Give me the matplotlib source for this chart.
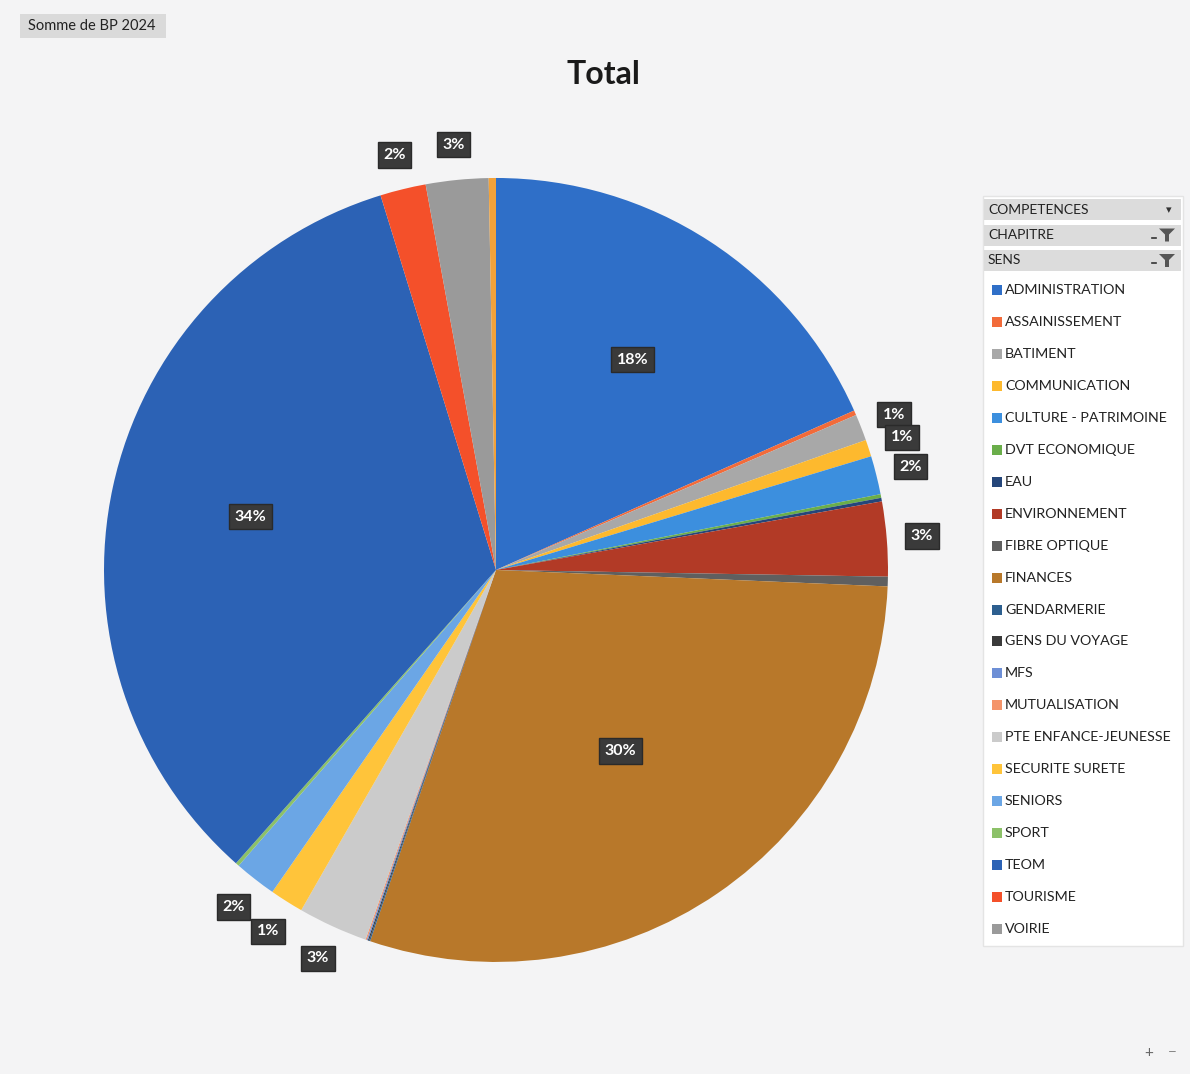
import numpy as np
import matplotlib
matplotlib.use("Agg")
import matplotlib.pyplot as plt
from matplotlib.patches import Rectangle, Polygon

plt.rcParams['font.family'] = ['Lato', 'DejaVu Sans']

# Somme de BP 2024 par compétence (en % du total)
competences = ["ADMINISTRATION", "ASSAINISSEMENT", "BATIMENT", "COMMUNICATION",
               "CULTURE - PATRIMOINE", "DVT ECONOMIQUE", "EAU", "ENVIRONNEMENT",
               "FIBRE OPTIQUE", "FINANCES", "GENDARMERIE", "GENS DU VOYAGE",
               "MFS", "MUTUALISATION", "PTE ENFANCE-JEUNESSE", "SECURITE SURETE",
               "SENIORS", "SPORT", "TEOM", "TOURISME", "VOIRIE"]
parts = [18.5, 0.2, 1.1, 0.7, 1.6, 0.15, 0.15, 3.1, 0.4, 29.8, 0.05, 0.05,
         0.05, 0.05, 2.9, 1.4, 1.75, 0.15, 34.0, 1.9, 2.6]
couleurs = ["#2F6FC8", "#F26B3A", "#A8A8A8", "#FDB92E", "#3C8FDE", "#6AAE4A",
            "#25467A", "#B23A26", "#5F5F5F", "#B8782A", "#2D5F8F", "#3A3A3A",
            "#6D8FD6", "#F4946A", "#CBCBCB", "#FFC43A", "#6BA6E5", "#8CC168",
            "#2C62B5", "#F4502A", "#9A9A9A"]
# fine tranche sans libellé en haut du camembert
autre = 0.3
couleur_autre = "#F2A23A"

W, H = 1190, 1074
fig = plt.figure(figsize=(W / 100, H / 100), dpi=100)
fig.patch.set_facecolor("#F4F4F5")

# calque en pixels pour les boutons et la légende
ov = fig.add_axes([0, 0, 1, 1])
ov.set_xlim(0, W)
ov.set_ylim(H, 0)
ov.axis("off")

ov.add_patch(Rectangle((20, 14), 146, 24, fc="#DADADA", ec="none"))
ov.text(28, 26, "Somme de BP 2024", fontsize=10.5, va="center", color="#222222")

fig.text(603 / W, 1 - 75 / H, "Total", ha="center", va="center",
         fontsize=23, fontweight="bold", color="#1A1A1A")

# camembert
ax = fig.add_axes([0.0874, 0.1043, 0.6588, 0.730])
vals = parts + [autre]
cols = couleurs + [couleur_autre]
wedges, _ = ax.pie(vals, colors=cols, startangle=90, counterclock=False,
                   radius=1, wedgeprops=dict(linewidth=0))
ax.set_xlim(-1, 1)
ax.set_ylim(-1, 1)
ax.set_aspect("equal")
ax.axis("off")

total = sum(vals)
for w, v in zip(wedges[:-1], parts):
    pct = v / total * 100
    if pct < 0.5:
        continue
    ang = np.deg2rad((w.theta1 + w.theta2) / 2)
    r = 0.64 if pct >= 10 else 1.09
    if 25 < pct < 32:
        r = 0.56
    ax.text(r * np.cos(ang), r * np.sin(ang), "%d%%" % round(pct),
            ha="center", va="center", color="white", fontsize=11.5,
            fontweight="bold",
            bbox=dict(boxstyle="square,pad=0.35", fc="#3A3A3A", ec="#2A2A2A"))

# volet des champs + légende
ov.add_patch(Rectangle((983, 196), 200, 750, fc="white", ec="#E4E4E4"))
boutons = ["COMPETENCES", "CHAPITRE", "SENS"]
for i, b in enumerate(boutons):
    y = 199 + i * 25.5
    ov.add_patch(Rectangle((984, y), 197, 21, fc="#DCDCDC", ec="none"))
    ov.text(988, y + 10.5, b, fontsize=10, va="center", color="#222222")
    if i == 0:
        ov.text(1169, y + 11, "▾", fontsize=8, ha="center", va="center",
                color="#333333", family="DejaVu Sans")
    else:
        ov.add_patch(Polygon([(1159, y + 4), (1175, y + 4), (1169, y + 10),
                              (1169, y + 17), (1165, y + 17), (1165, y + 10)],
                             fc="#555555", ec="none"))
        ov.plot([1152, 1156], [y + 13, y + 13], color="#333333", lw=1.2)

pas = (929 - 290) / (len(competences) - 1)
for i, (c, col) in enumerate(zip(competences, couleurs)):
    y = 290 + i * pas
    ov.add_patch(Rectangle((992, y - 5), 10, 10, fc=col, ec="none"))
    ov.text(1005, y, c, fontsize=10.3, va="center", color="#222222")

ov.text(1149, 1053, "+", fontsize=11, ha="center", va="center", color="#666666")
ov.text(1172, 1053, "−", fontsize=11, ha="center", va="center", color="#888888")

fig.savefig("out.png", dpi=100, facecolor=fig.get_facecolor())
